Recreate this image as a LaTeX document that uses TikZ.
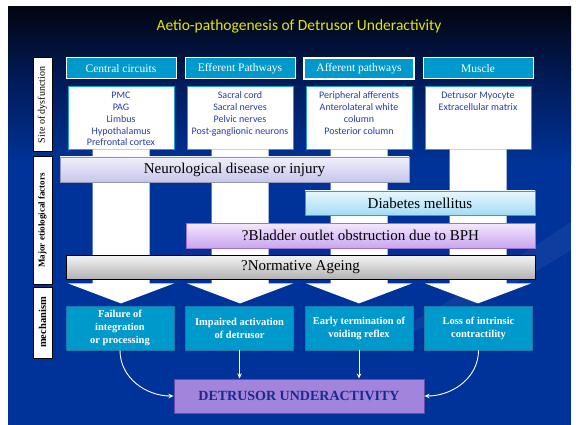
\documentclass[tikz,border=0pt]{standalone}
\usepackage{fontspec}
\setmainfont{Liberation Serif}
\newfontfamily\calib{Carlito}
\usetikzlibrary{positioning,arrows.meta}
\definecolor{slideblue}{RGB}{0,51,153}
\definecolor{slidetop}{RGB}{3,5,16}
\definecolor{slidemid}{RGB}{1,24,80}
\definecolor{headcyan}{RGB}{0,153,204}
\definecolor{siteline}{RGB}{30,160,208}
\definecolor{mechline}{RGB}{28,120,172}
\definecolor{textblue}{RGB}{40,60,170}
\definecolor{titleyellow}{RGB}{230,230,0}
\definecolor{duviolet}{RGB}{163,132,220}
\definecolor{duline}{RGB}{105,75,170}
\definecolor{dutext}{RGB}{26,42,140}
\tikzset{
  head/.style={
    draw=white, line width=1pt, fill=headcyan, text=white,
    minimum width=110pt, minimum height=21pt, inner sep=0pt,
    font=\fontsize{11.5}{13}\selectfont
  },
  site/.style={
    draw=siteline, fill=white, line width=0.8pt, inner xsep=1pt, inner ysep=0pt,
    text height=13pt, text depth=50pt,
    text=textblue, font=\calib\fontsize{10}{11.7}\selectfont
  },
  factor/.style={
    line width=0.8pt, minimum height=25pt, inner sep=0pt,
    font=\fontsize{15}{17}\selectfont
  },
  mech/.style={
    draw=mechline, fill=headcyan, text=white, line width=0.8pt,
    minimum width=108pt, minimum height=44pt, inner sep=0pt, align=center,
    font=\bfseries\fontsize{10.5}{13}\selectfont
  },
  sidelabel/.style={
    draw=black, fill=white, line width=1pt, rotate=90,
    minimum height=19pt, inner sep=0pt, font=\fontsize{10}{11}\selectfont
  },
  shaft/.style={fill=white},
  link/.style={draw=white, line width=0.9pt, -{Stealth[length=5pt,width=4.5pt]}}
}
\newcommand{\sitetext}[1]{\parbox[t]{104pt}{\centering #1}}

\begin{document}
\begin{tikzpicture}[x=1pt,y=-1pt]
      \useasboundingbox (0,0) rectangle (576,425);
      % slide background
      \fill[slideblue] (8,7) rectangle (571,425);
      \shade[top color=slidetop, bottom color=slidemid] (8,7) rectangle (571,70);
      \shade[top color=slidemid, bottom color=slideblue] (8,70) rectangle (571,165);
      \fill[white, opacity=0.05] (360,350) .. controls (450,305) and (520,255) .. (571,222)
        -- (571,250) .. controls (520,282) and (450,322) .. (360,350) -- cycle;

      \node [font=\calib\fontsize{15.5}{17}\selectfont, text=titleyellow] (Title) at (299,26)
        {Aetio-pathogenesis of Detrusor Underactivity};

      % left row labels
      \node [sidelabel, minimum width=94pt] (L1) at (42.5,105) {Site of dysfunction};
      \node [sidelabel, minimum width=127pt, font=\bfseries\fontsize{9}{10}\selectfont] (L2) at (42.5,220.5) {Major etiological factors};
      \node [sidelabel, minimum width=71pt, font=\bfseries\fontsize{10.5}{11}\selectfont] (L3) at (42.5,322.5) {mechanism};

      % site of dysfunction
      \node [head] (H1) at (121,68.5) {Central circuits};
      \node [head, on grid, right=119pt of H1] (H2) {Efferent Pathways};
      \node [head, on grid, right=119pt of H2, line width=1.5pt] (H3) {Afferent pathways};
      \node [head, on grid, right=119pt of H3] (H4) {Muscle};

      \node [site, on grid, below=49pt of H1] (S1) {\sitetext{PMC\\PAG\\Limbus\\Hypothalamus\\Prefrontal cortex}};
      \node [site, on grid, below=49pt of H2] (S2) {\sitetext{Sacral cord\\Sacral nerves\\Pelvic nerves\\Post-ganglionic neurons}};
      \node [site, on grid, below=49pt of H3] (S3) {\sitetext{Peripheral afferents\\Anterolateral white\\column\\Posterior column}};
      \node [site, on grid, below=49pt of H4] (S4) {\sitetext{Detrusor Myocyte\\Extracellular matrix}};

      % white block arrows
      \fill[shaft] ([xshift=-28.5pt]S1.south) -- ++(0,134) -- ++(-24.5,0) -- ++(53,20) -- ++(53,-20) -- ++(-24.5,0) -- ++(0,-134) -- cycle;
      \fill[shaft] ([xshift=-28.5pt]S2.south) -- ++(0,134) -- ++(-24.5,0) -- ++(53,20) -- ++(53,-20) -- ++(-24.5,0) -- ++(0,-134) -- cycle;
      \fill[shaft] ([xshift=-28.5pt]S3.south) -- ++(0,134) -- ++(-24.5,0) -- ++(53,20) -- ++(53,-20) -- ++(-24.5,0) -- ++(0,-134) -- cycle;
      \fill[shaft] ([xshift=-28.5pt]S4.south) -- ++(0,134) -- ++(-24.5,0) -- ++(53,20) -- ++(53,-20) -- ++(-24.5,0) -- ++(0,-134) -- cycle;

      % etiological factors
      \node [factor, minimum width=349pt, draw={rgb,255:red,150;green,150;blue,185},
             top color={rgb,255:red,240;green,240;blue,251}, bottom color={rgb,255:red,198;green,198;blue,234}]
             (Neuro) at (234.5,169.5) {Neurological disease or injury};
      \node [factor, minimum width=230pt, minimum height=24pt, draw={rgb,255:red,30;green,168;blue,216},
             top color={rgb,255:red,232;green,247;blue,253}, bottom color={rgb,255:red,164;green,220;blue,245}]
             (Diab) at (420,203) {Diabetes mellitus};
      \node [factor, minimum width=349pt, draw={rgb,255:red,160;green,112;blue,208},
             top color={rgb,255:red,244;green,232;blue,253}, bottom color={rgb,255:red,200;green,166;blue,240}]
             (BPH) at (360.5,235.5) {?Bladder outlet obstruction due to BPH};
      \node [factor, minimum width=469pt, minimum height=24pt, draw=black,
             top color={rgb,255:red,245;green,245;blue,245}, bottom color={rgb,255:red,178;green,178;blue,178}]
             (Age) at (300.5,267) {?Normative Ageing};

      % mechanism
      \node [mech] (M1) at (120,328) {Failure of\\integration\\or processing};
      \node [mech, on grid, right=119.5pt of M1] (M2) {Impaired activation\\of detrusor};
      \node [mech, on grid, right=119.5pt of M2] (M3) {Early termination of\\voiding reflex};
      \node [mech, on grid, right=119.5pt of M3] (M4) {Loss of intrinsic\\contractility};

      \node [draw=duline, fill=duviolet, line width=1pt, minimum width=250pt, minimum height=34pt,
             text=dutext, font=\bfseries\fontsize{14}{16}\selectfont] (DU) at (299,396) {DETRUSOR UNDERACTIVITY};

      \draw[link] (M1.south) to[out=-90, in=180] (DU.west);
      \draw[link] (M2.south) -- (M2.south |- DU.north);
      \draw[link] (M3.south) -- (M3.south |- DU.north);
      \draw[link] (M4.south) to[out=-90, in=0] (DU.east);
\end{tikzpicture}
\end{document}
